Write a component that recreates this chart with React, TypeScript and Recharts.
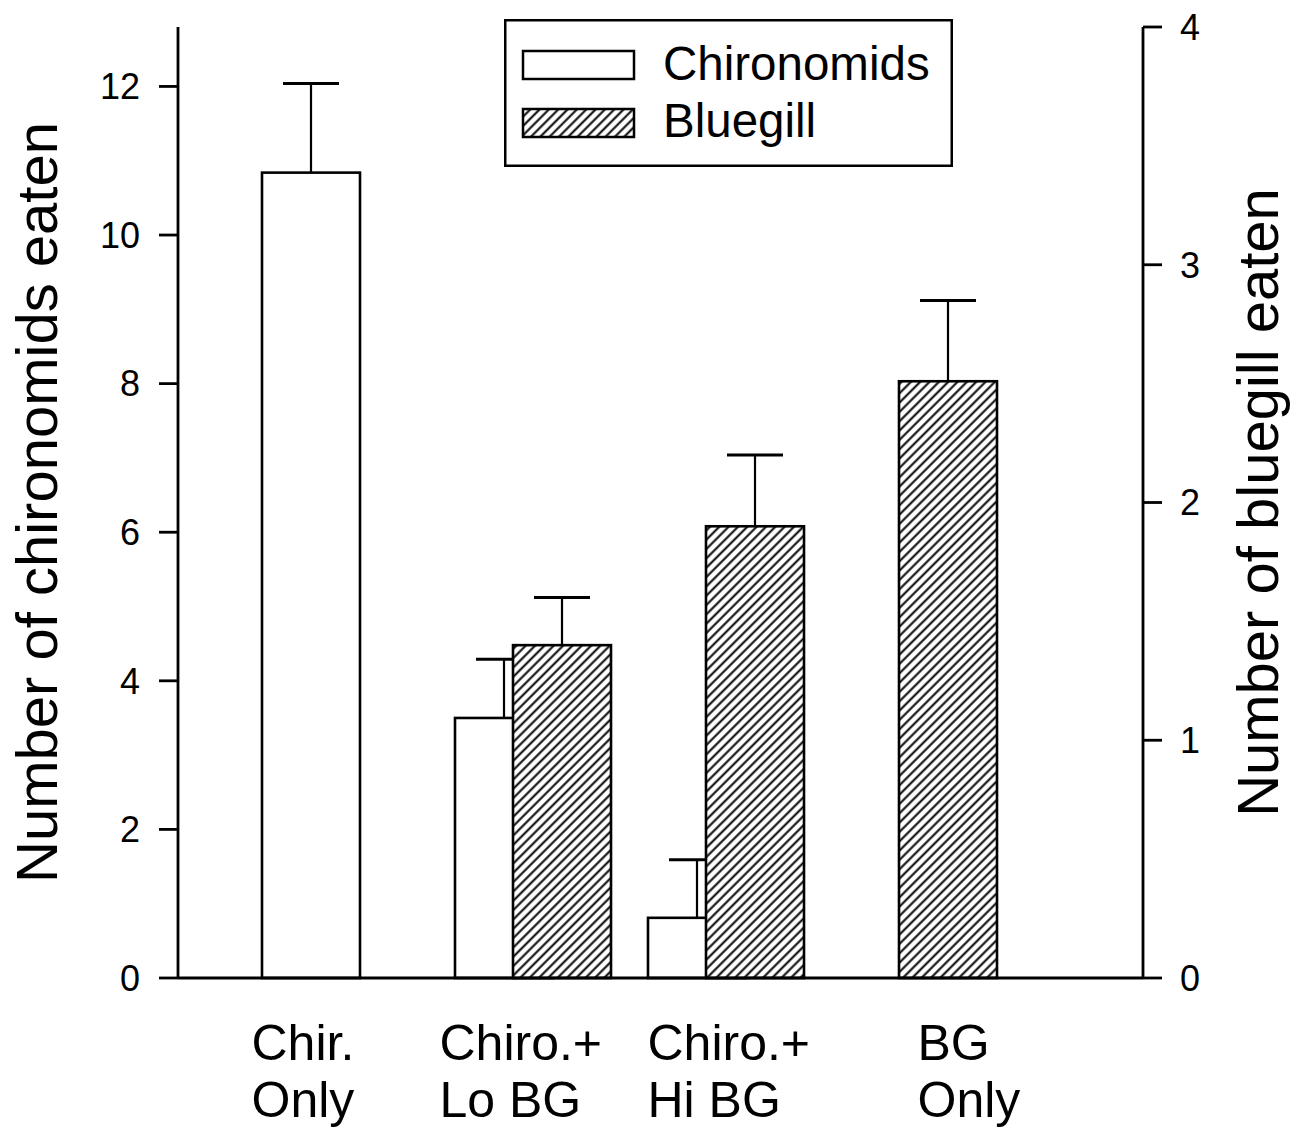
import { BarChart, Bar, XAxis, YAxis, Legend } from "recharts";

// categories, one entry per group of bars (each label is two lines)
const categories = [
  ["Chir.", "Only"],
  ["Chiro.+", "Lo BG"],
  ["Chiro.+", "Hi BG"],
  ["BG", "Only"],
];

// left axis: number of chironomids eaten (mean, SE)
const chironomids = [10.84, 3.5, 0.81, null];
const chironomidsSE = [1.2, 0.79, 0.78, null];

// right axis: number of bluegill eaten (mean, SE)
const bluegill = [null, 1.4, 1.9, 2.51];
const bluegillSE = [null, 0.2, 0.3, 0.34];

const leftTicks = [0, 2, 4, 6, 8, 10, 12];
const rightTicks = [0, 1, 2, 3, 4];

// horizontal shift of each two-line category label (labels are left aligned)
const LABEL_DX = [-88, -93, -78, -1];

const FONT = "'Liberation Sans', Arial, Helvetica, sans-serif";
const INK = "#000";
const LEGEND_ORDER = ["chir", "bg"];

const data = categories.map((lines, i) => ({
  name: lines.join(" "),
  chir: chironomids[i],
  chirSe: chironomidsSE[i],
  bg: bluegill[i],
  bgSe: bluegillSE[i],
}));

function CategoryTick(props: any) {
  const { x, y, index } = props;
  const lines = categories[index] || [];
  const tx = x + LABEL_DX[index];
  return (
    <text x={tx} y={y} textAnchor="start" fontFamily={FONT} fontSize={50} fill={INK}>
      <tspan x={tx} dy={82}>{lines[0]}</tspan>
      <tspan x={tx} dy={57}>{lines[1]}</tspan>
    </text>
  );
}

// bar rectangle plus a one-sided (upper) SE whisker, scaled from the bar's own geometry
function barWithError(seKey: string) {
  return (props: any) => {
    const { x, y, width, height, value, payload, fill, stroke, strokeWidth } = props;
    if (value == null || !height) return <g />;
    const se = payload[seKey];
    const cx = x + width / 2;
    const top = se == null ? y : y - (se * height) / value;
    return (
      <g>
        <rect x={x} y={y} width={width} height={height} fill={fill} stroke={stroke} strokeWidth={strokeWidth} />
        {se != null && (
          <g stroke={INK}>
            <line x1={cx} y1={y} x2={cx} y2={top} strokeWidth={2.2} />
            <line x1={cx - 28} y1={top} x2={cx + 28} y2={top} strokeWidth={3} />
          </g>
        )}
      </g>
    );
  };
}

function HatchPattern({ id }: { id: string }) {
  return (
    <pattern id={id} patternUnits="userSpaceOnUse" width="6.6" height="6.6" patternTransform="rotate(45)">
      <rect width="6.6" height="6.6" fill="#fff" />
      <line x1="3.3" y1="0" x2="3.3" y2="6.6" stroke={INK} strokeWidth="2" />
    </pattern>
  );
}

function LegendBox(props: any) {
  const payload = [...(props.payload || [])].sort(
    (a: any, b: any) => LEGEND_ORDER.indexOf(a.dataKey) - LEGEND_ORDER.indexOf(b.dataKey)
  );
  return (
    <svg width={449} height={148} style={{ display: "block" }}>
      <defs>
        <HatchPattern id="hatchLegend" />
      </defs>
      <rect x={1.25} y={1.25} width={446.5} height={145.5} fill="#fff" stroke={INK} strokeWidth={2.5} />
      {payload.map((p: any, i: number) => (
        <g key={p.value}>
          <rect
            x={19}
            y={32 + i * 58}
            width={111}
            height={28}
            fill={p.dataKey === "bg" ? "url(#hatchLegend)" : "#fff"}
            stroke={INK}
            strokeWidth={2.5}
          />
          <text x={159} y={61 + i * 57} fontFamily={FONT} fontSize={47.5} fill={INK}>
            {p.value}
          </text>
        </g>
      ))}
    </svg>
  );
}

export default function App() {
  const tickStyle = { fontSize: 36, fill: INK, fontFamily: FONT };
  const axisLine = { stroke: INK, strokeWidth: 2.8 };
  return (
    <div style={{ position: "absolute", left: 0, top: 0, background: "#fff" }}>
      <BarChart
        width={1297}
        height={1135}
        data={data}
        margin={{ top: 27, right: 54, bottom: 37, left: 78 }}
        barGap={-40}
      >
        <defs>
          <HatchPattern id="hatch" />
        </defs>
        <XAxis
          dataKey="name"
          interval={0}
          tick={<CategoryTick />}
          tickLine={false}
          tickSize={0}
          tickMargin={0}
          height={120}
          padding={{ left: 65, right: 128 }}
          axisLine={axisLine}
        />
        <YAxis
          yAxisId="left"
          domain={[0, 12.8]}
          ticks={leftTicks}
          width={100}
          tickSize={19}
          tickMargin={19}
          tick={tickStyle}
          axisLine={axisLine}
          tickLine={axisLine}
          label={{
            value: "Number of chironomids eaten",
            angle: -90,
            position: "insideLeft",
            offset: -42,
            style: { textAnchor: "middle", fontSize: 58, fill: INK, fontFamily: FONT },
          }}
        />
        <YAxis
          yAxisId="right"
          orientation="right"
          domain={[0, 4]}
          ticks={rightTicks}
          width={100}
          tickSize={19}
          tickMargin={18}
          tick={tickStyle}
          axisLine={axisLine}
          tickLine={axisLine}
          label={{
            value: "Number of bluegill eaten",
            angle: -90,
            position: "insideRight",
            offset: -14,
            style: { textAnchor: "middle", fontSize: 58, fill: INK, fontFamily: FONT },
          }}
        />
        <Legend
          verticalAlign="middle"
          align="center"
          layout="horizontal"
          wrapperStyle={{ left: 504, top: 19, width: 449, height: 148 }}
          content={<LegendBox />}
        />
        <Bar
          yAxisId="left"
          dataKey="chir"
          name="Chironomids"
          fill="#fff"
          stroke={INK}
          strokeWidth={2.6}
          barSize={98}
          shape={barWithError("chirSe")}
          isAnimationActive={false}
        />
        <Bar
          yAxisId="right"
          dataKey="bg"
          name="Bluegill"
          fill="url(#hatch)"
          stroke={INK}
          strokeWidth={2.6}
          barSize={98}
          shape={barWithError("bgSe")}
          isAnimationActive={false}
        />
      </BarChart>
    </div>
  );
}
